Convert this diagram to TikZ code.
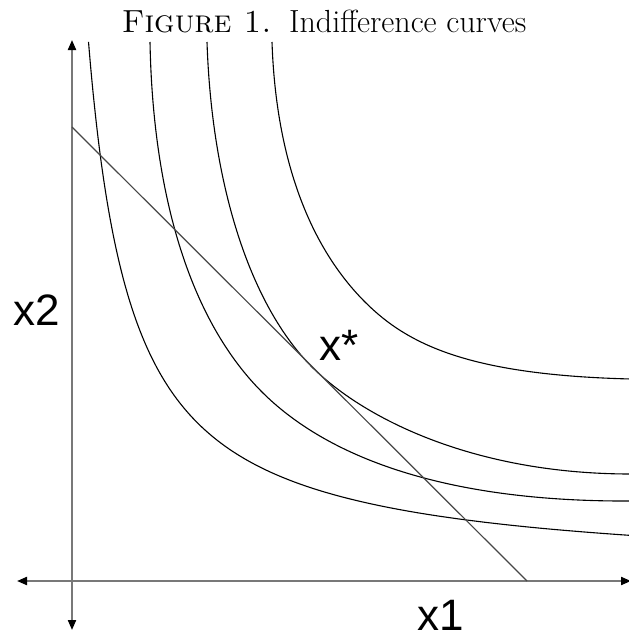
\documentclass[tikz,border=0pt]{standalone}
\usepackage{fontspec}
\newfontfamily\labfont{Liberation Sans}
\usetikzlibrary{arrows.meta}
\definecolor{axisgray}{RGB}{120,120,120}
\definecolor{budgetgray}{RGB}{70,70,70}
\begin{document}
\begin{tikzpicture}[x=1pt,y=-1pt,
  axisline/.style={draw=axisgray,line width=2pt,
    {Triangle[length=10pt,width=8pt,color=black]}-{Triangle[length=10pt,width=8pt,color=black]}},
  icurve/.style={draw=black,line width=1.1pt},
  budget/.style={draw=budgetgray,line width=1.2pt},
  lab/.style={font=\labfont\fontsize{44}{48}\selectfont,inner sep=0pt}]
\useasboundingbox (0,0) rectangle (629,638);
% title
\node[anchor=base,inner sep=0pt] (title) at (324,32)
  {\fontsize{32}{38}\selectfont\textsc{Figure 1.}\hspace{0.55em}Indifference curves};
% axes
\coordinate (ytop) at (72,40);
\coordinate (ybot) at (72,630);
\coordinate (xleft) at (17,581);
\coordinate (xright) at (631,581);
\draw[axisline] (ybot) -- (ytop);
\draw[axisline] (xleft) -- (xright);
% indifference curves
\coordinate (c2a) at (150,42); \coordinate (c2k) at (262,392); \coordinate (c2b) at (631,501);
\coordinate (c3a) at (207,42); \coordinate (c3k) at (312,367); \coordinate (c3b) at (631,474);
\coordinate (c4a) at (272,42); \coordinate (c4k) at (365,302); \coordinate (c4b) at (631,379);
\draw[icurve] plot[domain=-1.2528:1.3474,samples=120,variable=\t,smooth]
  ({45+152.3*exp(\t)},{575-152.3*exp(-\t)});
\draw[icurve] (c2a) .. controls (153,200) and (192,322) .. (c2k)
  .. controls (325,455) and (440,502) .. (c2b);
\draw[icurve] (c3a) .. controls (212,190) and (252,307) .. (c3k)
  .. controls (361,416) and (470,474) .. (c3b);
\draw[icurve] (c4a) .. controls (276,160) and (310,247) .. (c4k)
  .. controls (408,345) and (470,375) .. (c4b);
% budget line
\coordinate (bstart) at (72,127);
\coordinate (bend) at (527,581);
\draw[budget] (bstart) -- (bend);
% labels
\node[lab,anchor=base west] (lx2) at (13,325) {x2};
\node[lab,anchor=base west] (lx1) at (417,630) {x1};
\node[lab,anchor=base west] (lxs) at (319,360) {x*};
\end{tikzpicture}
\end{document}
